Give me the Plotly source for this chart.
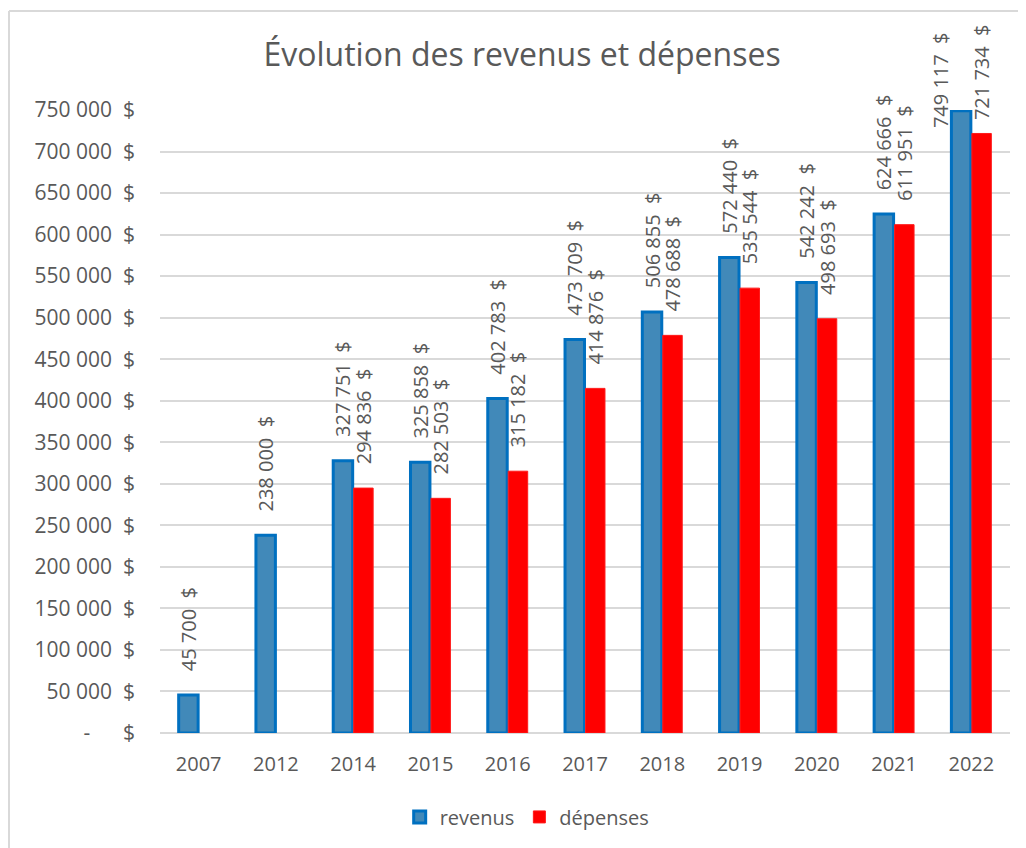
import plotly.graph_objects as go

years = ["2007", "2012", "2014", "2015", "2016", "2017", "2018", "2019", "2020", "2021", "2022"]
revenus = [45700, 238000, 327751, 325858, 402783, 473709, 506855, 572440, 542242, 624666, 749117]
depenses = [None, None, 294836, 282503, 315182, 414876, 478688, 535544, 498693, 611951, 721734]
tick_vals = [0, 50000, 100000, 150000, 200000, 250000, 300000, 350000, 400000, 450000, 500000,
             550000, 600000, 650000, 700000, 750000]

NB = "\u00a0"


def money(v):
    if v == 0:
        return "-" + NB * 6 + "$"
    s = f"{v:,}".replace(",", NB)
    return s + NB * 2 + "$"


def label(v, pad=4):
    if v is None:
        return ""
    return NB * pad + money(v)


GREY = "#595959"
FONT = "Open Sans"

# the last revenue label sits beside its bar (as in the reference), the last expense label is tighter
rev_text = [label(v) for v in revenus[:-1]] + [""]
dep_text = [label(v) for v in depenses[:-1]] + [label(depenses[-1], pad=2)]

fig = go.Figure()
fig.add_trace(go.Bar(
    name="revenus", x=years, y=revenus,
    text=rev_text,
    textposition="outside", textangle=-90, cliponaxis=False, constraintext="none",
    textfont=dict(family=FONT, size=20, color=GREY),
    marker=dict(color="#4189B9", line=dict(color="#0070C0", width=3)),
))
fig.add_trace(go.Bar(
    name="dépenses", x=years, y=depenses,
    text=dep_text,
    textposition="outside", textangle=-90, cliponaxis=False, constraintext="none",
    textfont=dict(family=FONT, size=20, color=GREY),
    marker=dict(color="#FF0000", line=dict(color="#FF1A1A", width=1)),
))

# on a category axis, annotation x is the category's serial number
fig.add_annotation(
    x=len(years) - 1, y=revenus[-1], xref="x", yref="y",
    text=money(revenus[-1]), textangle=-90, showarrow=False,
    xanchor="center", yanchor="bottom", xshift=-31, yshift=-19,
    font=dict(family=FONT, size=20, color=GREY),
)

W, H = 1018, 840
fig.update_layout(
    width=W, height=H,
    margin=dict(l=152, r=16, t=102, b=115),
    paper_bgcolor="white", plot_bgcolor="white",
    font=dict(family=FONT, size=20, color=GREY),
    barmode="group", bargap=0.47, bargroupgap=0.05,
    title=dict(text="Évolution des revenus et dépenses", x=0.505, xref="container",
               xanchor="center", y=0.944, yref="container", yanchor="middle",
               font=dict(family=FONT, size=32, color=GREY)),
    legend=dict(orientation="h", xref="container", x=0.51, xanchor="center",
                yref="container", y=0.037, yanchor="middle",
                font=dict(family=FONT, size=20, color=GREY)),
    xaxis=dict(type="category", showgrid=False, showline=False, ticks="",
               ticklabelstandoff=17, tickfont=dict(size=20, color=GREY)),
    yaxis=dict(range=[0, 750000], tickvals=tick_vals, ticktext=[money(v) for v in tick_vals],
               showgrid=True, gridcolor="#D9D9D9", gridwidth=1.5, zeroline=True,
               zerolinecolor="#D9D9D9", zerolinewidth=1.5, showline=False, ticks="",
               ticklabelstandoff=24, tickfont=dict(size=21, color=GREY)),
    shapes=[
        dict(type="line", xref="paper", yref="paper",
             x0=-151 / 850, x1=1030 / 850, y0=1 + 99 / 623, y1=1 + 99 / 623,
             line=dict(color="#D9D9D9", width=2), layer="below"),
        dict(type="line", xref="paper", yref="paper",
             x0=-151 / 850, x1=-151 / 850, y0=-130 / 623, y1=1 + 99 / 623,
             line=dict(color="#D9D9D9", width=2), layer="below"),
    ],
)

fig.write_html("out.html", config={"displayModeBar": False})
